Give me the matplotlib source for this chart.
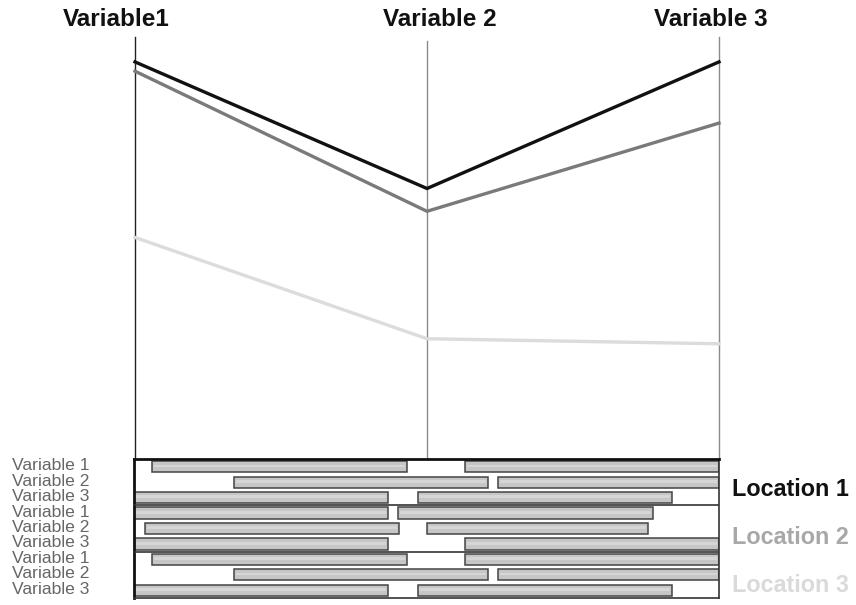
import matplotlib
matplotlib.use("Agg")
import matplotlib.pyplot as plt

plt.rcParams['font.family'] = ['Liberation Sans', 'DejaVu Sans']

# ---------------- data ----------------
variables = ["Variable1", "Variable 2", "Variable 3"]
locations = ["Location 1", "Location 2", "Location 3"]
loc1_values = [94.1, 64.1, 94.1]
loc1b_values = [91.9, 58.7, 79.6]
loc3_values = [52.5, 28.5, 27.3]
line_series = [loc1_values, loc1b_values, loc3_values]
line_colors = ["#111111", "#7a7a7a", "#dcdcdc"]

row_labels = ["Variable 1", "Variable 2", "Variable 3"] * 3
# each row: list of (start, end) intervals on a 0-100 scale
row_intervals = [
    [(3.1, 46.7), (56.6, 100.0)],
    [(17.1, 60.5), (62.2, 100.0)],
    [(0.0, 43.4), (48.5, 92.0)],
    [(0.0, 43.4), (45.1, 88.7)],
    [(1.9, 45.3), (50.1, 87.9)],
    [(0.0, 43.4), (56.6, 100.0)],
    [(3.1, 46.7), (56.6, 100.0)],
    [(17.1, 60.5), (62.2, 100.0)],
    [(0.0, 43.4), (48.5, 92.0)],
]
location_colors = ["#111111", "#a8a8a8", "#dadada"]
axis_colors = ["#222222", "#8a8a8a", "#8a8a8a"]

# ---------------- figure ----------------
W, H = 856, 605
fig = plt.figure(figsize=(W / 100, H / 100), dpi=100)

def fx(px):
    return px / W

def fy(py):
    return 1 - py / H

# top parallel-coordinates axes
x_left, x_right = 135, 719
top_y0, top_y1 = 37, 459
ax = fig.add_axes([fx(x_left), fy(top_y1), fx(x_right) - fx(x_left), fy(top_y0) - fy(top_y1)])
ax.set_xlim(0, 2)
ax.set_ylim(0, 100)
ax.axis("off")
xs = list(range(len(variables)))
for i, c in enumerate(axis_colors):
    ymax = 1.0 if i != 1 else 0.99
    ax.axvline(i, ymin=0, ymax=ymax, color=c, lw=1.0, zorder=1, clip_on=False)
for vals, col in zip(line_series, line_colors):
    ax.plot(xs, vals, color=col, lw=2.4, solid_joinstyle="miter", zorder=3,
            clip_on=False)

# top labels
label_x = [116, 440, 711]
for name, lx in zip(variables, label_x):
    fig.text(fx(lx), fy(20), name, ha="center", va="center",
             fontsize=17.5, fontweight="bold", color="#111111")

# bottom gantt-like panel
bot_y0, bot_y1 = 459, 598
bx = fig.add_axes([fx(134), fy(bot_y1), fx(719) - fx(134), fy(bot_y0) - fy(bot_y1)])
nrows = len(row_intervals)
bx.set_xlim(0, 100)
bx.set_ylim(nrows, 0)
bx.set_xticks([])
bx.set_yticks([])
for s in ["top", "left"]:
    bx.spines[s].set_linewidth(2.0)
    bx.spines[s].set_color("#111111")
for s in ["bottom", "right"]:
    bx.spines[s].set_linewidth(1.2)
    bx.spines[s].set_color("#333333")

bar_h = 0.72
for r, intervals in enumerate(row_intervals):
    starts = [a for a, b in intervals]
    widths = [b - a for a, b in intervals]
    bx.barh([r + 0.5] * len(starts), widths, left=starts, height=bar_h,
            color="#c6c6c6", edgecolor="#444444", linewidth=1.1, zorder=2)
    # subtle highlight stripe to mimic gradient
    bx.barh([r + 0.45] * len(starts), [w - 0.6 for w in widths],
            left=[s + 0.3 for s in starts], height=bar_h * 0.25,
            color="#d6d6d6", edgecolor="none", linewidth=0, zorder=3)

for g in (3, 6):
    bx.axhline(g, color="#333333", lw=1.2, zorder=4)

# left row labels
for r, lab in enumerate(row_labels):
    yc = bot_y0 + (r + 0.5) * (bot_y1 - bot_y0) / nrows
    fig.text(fx(12), fy(yc - 1), lab, ha="left", va="center",
             fontsize=12.6, color="#666666")

# right location labels
loc_y = [490, 537, 585]
for name, ly, col in zip(locations, loc_y, location_colors):
    fig.text(fx(732), fy(ly), name, ha="left", va="center",
             fontsize=16.8, fontweight="bold", color=col)

fig.savefig("out.png", dpi=100)
